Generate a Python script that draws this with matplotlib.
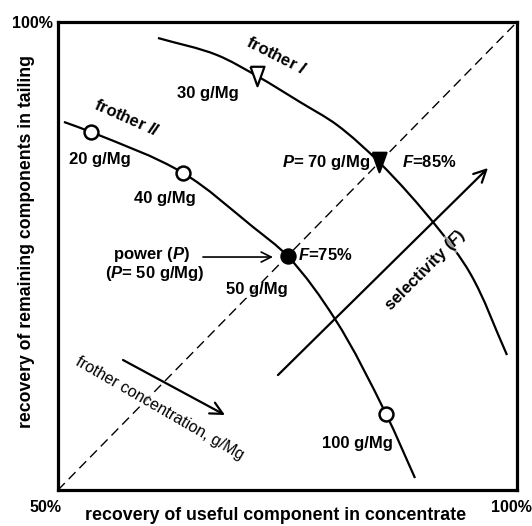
import matplotlib
matplotlib.use("Agg")
import matplotlib.pyplot as plt
import numpy as np
from matplotlib.path import Path
from matplotlib.patches import PathPatch

plt.rcParams['font.family'] = ['Liberation Sans', 'DejaVu Sans']
plt.rcParams['mathtext.fontset'] = 'custom'
plt.rcParams['mathtext.rm'] = 'Liberation Sans:bold'
plt.rcParams['mathtext.it'] = 'Liberation Sans:italic:bold'
plt.rcParams['mathtext.bf'] = 'Liberation Sans:bold'

# ---- data (% recovery) ----
frother2_x = [50.65, 53.59, 63.62, 71.24, 75.0, 80.17, 85.73, 88.89]
frother2_y = [89.32, 88.25, 83.87, 78.10, 75.0, 68.27, 58.12, 51.28]
frother2_conc = ["20 g/Mg", "40 g/Mg", "50 g/Mg", "100 g/Mg"]
frother2_mx = [53.59, 63.62, 75.0, 85.73]
frother2_my = [88.25, 83.87, 75.0, 58.12]

frother1_x = [60.89, 67.32, 71.68, 76.36, 80.39, 85.0, 91.28, 94.88, 98.91]
frother1_y = [98.29, 96.47, 94.23, 91.45, 89.00, 85.0, 78.10, 73.18, 64.42]
frother1_conc = ["30 g/Mg", "70 g/Mg"]
frother1_mx = [71.68, 85.0]
frother1_my = [94.23, 85.0]

axis_min, axis_max = 50, 100

fig = plt.figure(figsize=(5.32, 5.26), dpi=100)
ax = fig.add_axes([58/532, 1-490/526, 459/532, 468/526])
ax.set_xlim(axis_min, axis_max)
ax.set_ylim(axis_min, axis_max)
ax.set_xticks([])
ax.set_yticks([])
for s in ax.spines.values():
    s.set_linewidth(2.3)
    s.set_zorder(10)


def smooth_path(xs, ys):
    """Smooth Bezier path through the given points, tangents from unit chord directions."""
    p = np.column_stack([xs, ys]).astype(float)
    n = len(p)
    d = np.diff(p, axis=0)
    L = np.hypot(d[:, 0], d[:, 1])
    u = d / L[:, None]
    T = np.zeros_like(p)
    T[0] = u[0]
    T[-1] = u[-1]
    for i in range(1, n - 1):
        t = u[i - 1] + u[i]
        T[i] = t / np.hypot(*t)
    verts = [p[0]]
    codes = [Path.MOVETO]
    for i in range(n - 1):
        c1 = p[i] + T[i] * L[i] / 3.0
        c2 = p[i + 1] - T[i + 1] * L[i] / 3.0
        verts += [c1, c2, p[i + 1]]
        codes += [Path.CURVE4] * 3
    return Path(verts, codes)


# diagonal
ax.plot([axis_min, axis_max], [axis_min, axis_max], color='black', lw=1.0,
        dashes=(7, 4), zorder=2)

# curves
for xs, ys in [(frother2_x, frother2_y), (frother1_x, frother1_y)]:
    ax.add_patch(PathPatch(smooth_path(xs, ys), facecolor='none', edgecolor='black',
                           lw=1.6, zorder=3, capstyle='butt'))

# markers frother II
for i, (mx, my) in enumerate(zip(frother2_mx, frother2_my)):
    fc = 'black' if frother2_conc[i] == "50 g/Mg" else 'white'
    ax.plot(mx, my, marker='o', ms=10, mfc=fc, mec='black', mew=1.8, zorder=5)

tri = [(-0.72, 1.0), (0.72, 1.0), (0.0, -1.0), (-0.72, 1.0)]
for i, (mx, my) in enumerate(zip(frother1_mx, frother1_my)):
    fc = 'black' if frother1_conc[i] == "70 g/Mg" else 'white'
    ax.plot(mx, my, marker=tri, ms=14, mfc=fc, mec='black', mew=1.6, zorder=5)

fs = 12
wbox = dict(facecolor='white', alpha=0.6, edgecolor='none', pad=0.5)

ax.text(73.75, 96.47, r"frother $I$", fontsize=fs, fontweight='bold',
        rotation=-27, ha='center', va='center', zorder=6)
ax.text(57.52, 89.74, r"frother $II$", fontsize=fs, fontweight='bold',
        rotation=-24, ha='center', va='center', zorder=6)

ax.text(66.34, 92.31, frother1_conc[0], fontsize=fs, fontweight='bold', ha='center', va='center')
ax.text(54.58, 85.36, frother2_conc[0], fontsize=fs, fontweight='bold', ha='center', va='center')
ax.text(61.66, 81.09, frother2_conc[1], fontsize=fs, fontweight='bold', ha='center', va='center')
ax.text(71.68, 71.37, frother2_conc[2], fontsize=fs, fontweight='bold', ha='center', va='center',
        bbox=wbox, zorder=6)
ax.text(82.57, 55.02, frother2_conc[3], fontsize=fs, fontweight='bold', ha='center', va='center')

ax.text(60.13, 75.11, r"power ($P$)", fontsize=fs, fontweight='bold', ha='center', va='center')
ax.text(60.57, 73.18, r"($P$= 50 g/Mg)", fontsize=fs, fontweight='bold', ha='center', va='center')
ax.annotate("", xy=(73.42, 74.89), xytext=(65.79, 74.89),
            arrowprops=dict(arrowstyle='->', lw=1.2, color='black', mutation_scale=18,
                            shrinkA=0, shrinkB=0))

ax.text(76.14, 75.11, r"$F$=75%", fontsize=fs, fontweight='bold', ha='left', va='center', zorder=6)
ax.text(83.99, 85.04, r"$P$= 70 g/Mg", fontsize=fs, fontweight='bold', ha='right', va='center', zorder=6)
ax.text(87.47, 85.04, r"$F$=85%", fontsize=fs, fontweight='bold', ha='left', va='center', zorder=6)

# selectivity arrow
ax.annotate("", xy=(96.84, 84.40), xytext=(73.96, 62.28),
            arrowprops=dict(arrowstyle='->', lw=1.6, color='black', mutation_scale=22,
                            shrinkA=0, shrinkB=0), zorder=4)
ax.text(89.98, 73.50, r"selectivity ($F$)", fontsize=fs, fontweight='bold',
        rotation=45, ha='center', va='center', rotation_mode='anchor', bbox=wbox, zorder=6)

# frother concentration arrow
ax.annotate("", xy=(68.19, 58.01), xytext=(57.08, 63.89),
            arrowprops=dict(arrowstyle='->', lw=1.6, color='black', mutation_scale=22,
                            shrinkA=0, shrinkB=0), zorder=4)
ax.text(61.11, 58.76, "frother concentration, g/Mg", fontsize=11.5,
        rotation=-30, ha='center', va='center', rotation_mode='anchor', bbox=wbox, zorder=6)

# corner labels
fig.text(32/532, 1-23/526, "100%", fontsize=11.5, fontweight='bold', ha='center', va='center')
fig.text(45/532, 1-507/526, "50%", fontsize=11.5, fontweight='bold', ha='center', va='center')
fig.text(511/532, 1-508/526, "100%", fontsize=11.5, fontweight='bold', ha='center', va='center')

fig.text(276/532, 1-516/526, "recovery of useful component in concentrate", fontsize=12.8,
         fontweight='bold', ha='center', va='center')
fig.text(27/532, 1-241/526, "recovery of remaining components in tailing", fontsize=12.7,
         fontweight='bold', ha='center', va='center', rotation=90)

fig.savefig("out.png", dpi=100)
